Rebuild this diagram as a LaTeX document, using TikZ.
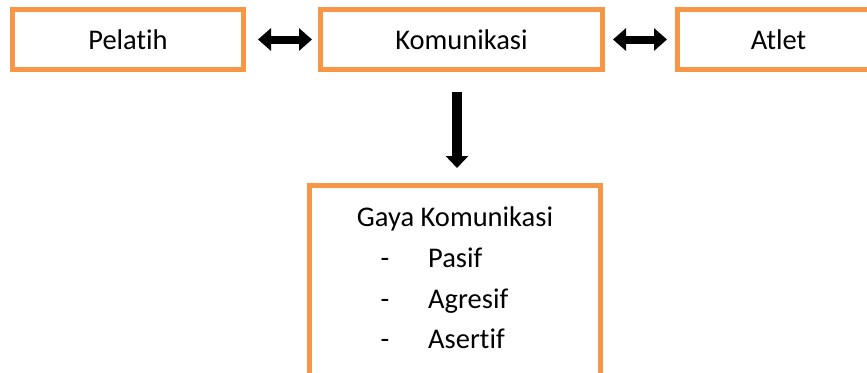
\documentclass[tikz,border=0pt]{standalone}
\usepackage{fontspec}
\setmainfont{Carlito}[Ligatures={NoCommon,NoContextual}]
\usetikzlibrary{arrows.meta}
\definecolor{boxorange}{HTML}{F79646}
\begin{document}
\begin{tikzpicture}[x=1pt,y=-1pt,
  box/.style={draw=boxorange,line width=5pt,fill=white,inner sep=0pt,
    font=\fontsize{28.5}{32}\selectfont},
  txt/.style={inner sep=0pt,anchor=base,font=\fontsize{28.5}{32}\selectfont},
  dbl/.style={line width=8pt,
    {Triangle[width=22pt,length=13pt]}-{Triangle[width=22pt,length=13pt]}},
  down/.style={line width=10pt,-{Triangle[width=22pt,length=12pt]}}]
\clip (0,0) rectangle (867,372);
\fill[white] (0,0) rectangle (867,372);
\node[box,minimum width=231pt,minimum height=60pt] (pel) at (128,39.5) {Pelatih};
\node[box,minimum width=282pt,minimum height=60pt] (kom) at (461.5,39.5) {Komunikasi};
\node[box,minimum width=202pt,minimum height=60pt] (atl) at (778.5,39.5) {Atlet};
\node[box,minimum width=291pt,minimum height=200pt] (gaya) at (455,285.5) {};
\node[txt] (title) at (455,226) {Gaya Komunikasi};
\node[txt] (d1) at (385,267) {-};
\node[txt] (d2) at (385,308) {-};
\node[txt] (d3) at (385,348) {-};
\node[txt,anchor=base west] (i1) at (428,267) {Pasif};
\node[txt,anchor=base west] (i2) at (428,308) {Agresif};
\node[txt,anchor=base west] (i3) at (428,348) {Asertif};
\draw[dbl,shorten <=12pt,shorten >=6pt] (pel.east) -- (kom.west);
\draw[dbl,shorten <=8pt,shorten >=8pt] (kom.east) -- (atl.west);
\draw[down,shorten <=20pt,shorten >=15pt] ([xshift=-4.5pt]kom.south) -- ([xshift=2pt]gaya.north);
\end{tikzpicture}
\end{document}
